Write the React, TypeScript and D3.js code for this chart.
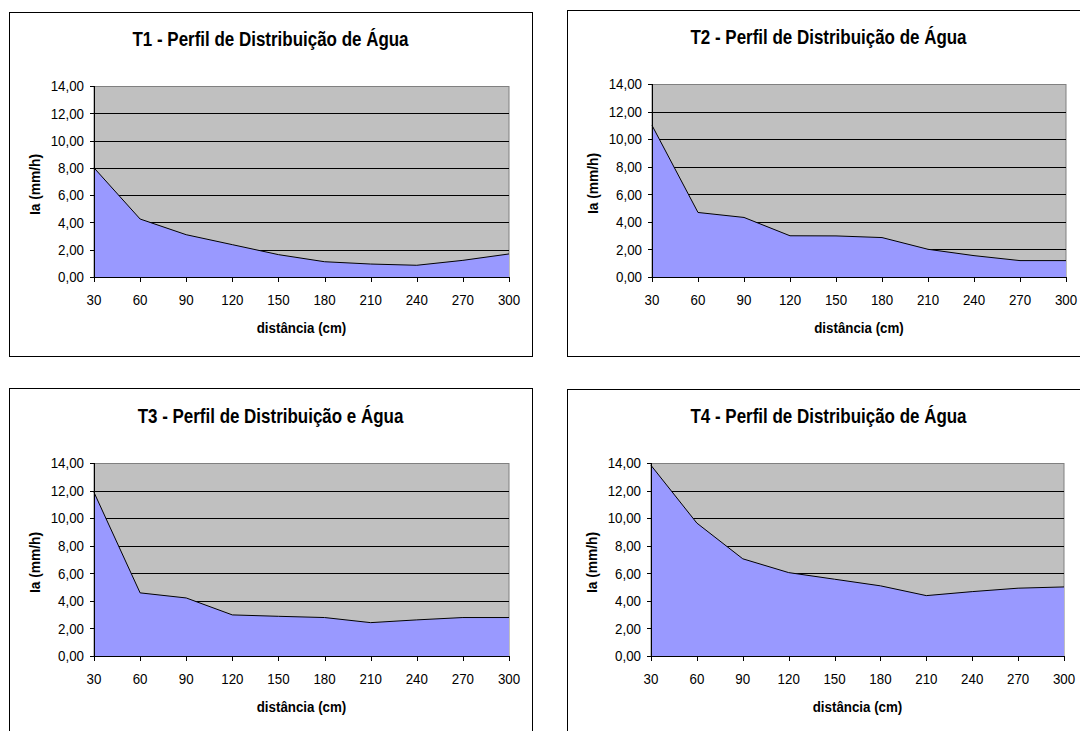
import React from "react";
import * as d3 from "d3";

// Distances along the lateral (cm)
const distances = [30, 60, 90, 120, 150, 180, 210, 240, 270, 300];

// Application intensity Ia (mm/h) for each treatment
const t1Values = [8.0, 4.25, 3.1, 2.37, 1.64, 1.12, 0.95, 0.86, 1.22, 1.69];
const t2Values = [11.0, 4.68, 4.32, 2.99, 2.98, 2.86, 2.01, 1.55, 1.19, 1.19];
const t3Values = [11.87, 4.58, 4.21, 2.98, 2.88, 2.79, 2.42, 2.62, 2.79, 2.79];
const t4Values = [13.83, 9.64, 7.05, 6.05, 5.57, 5.09, 4.38, 4.67, 4.92, 5.01];

const titles = [
  "T1 - Perfil de Distribuição de Água",
  "T2 - Perfil de Distribuição de Água",
  "T3 - Perfil de Distribuição e Água",
  "T4 - Perfil de Distribuição de Água",
];

const yTicks = [0, 2, 4, 6, 8, 10, 12, 14];
const xAxisTitle = "distância (cm)";
const yAxisTitle = "Ia (mm/h)";

const series = [t1Values, t2Values, t3Values, t4Values];

// Panel layout: outer frame and plot area for each chart
const panels = [
  { frame: { x0: 9, y0: 12, x1: 532, y1: 356 }, plot: { x0: 94, x1: 509, y0: 86, y1: 277 } },
  { frame: { x0: 567, y0: 10, x1: 1090, y1: 356 }, plot: { x0: 652, x1: 1066, y0: 84, y1: 277 } },
  { frame: { x0: 9, y0: 388, x1: 532, y1: 745 }, plot: { x0: 94, x1: 509, y0: 463, y1: 656 } },
  { frame: { x0: 567, y0: 389, x1: 1090, y1: 745 }, plot: { x0: 651, x1: 1064, y0: 463, y1: 656 } },
];

const FONT = "'Liberation Sans', Arial, Helvetica, sans-serif";
const fmt = (v: number) => v.toFixed(2).replace(".", ",");

function Panel({ idx }: { idx: number }) {
  const { frame, plot } = panels[idx];
  const values = series[idx];
  const x = d3.scalePoint<number>().domain(distances).range([plot.x0, plot.x1]).padding(0);
  const y = d3.scaleLinear().domain([0, 14]).range([plot.y1, plot.y0]);

  const pts = distances.map((d, i) => ({ d, v: values[i] }));
  const area = d3
    .area<{ d: number; v: number }>()
    .x((p) => x(p.d) as number)
    .y0(y(0))
    .y1((p) => y(p.v));
  const line = d3
    .line<{ d: number; v: number }>()
    .x((p) => x(p.d) as number)
    .y((p) => y(p.v));

  const cx = (plot.x0 + plot.x1) / 2;
  const cy = (plot.y0 + plot.y1) / 2;
  const titleX = (frame.x0 + frame.x1) / 2;

  return (
    <g>
      <rect
        x={frame.x0 + 0.5}
        y={frame.y0 + 0.5}
        width={frame.x1 - frame.x0}
        height={frame.y1 - frame.y0}
        fill="#ffffff"
        stroke="#000000"
        strokeWidth={1}
      />
      <text
        transform={`translate(${titleX},${plot.y0 - 40}) scale(0.87,1)`}
        textAnchor="middle"
        fontFamily={FONT}
        fontWeight="bold"
        fontSize={19.5}
        fill="#000"
      >
        {titles[idx]}
      </text>

      {/* plot area */}
      <rect
        x={plot.x0}
        y={plot.y0 + 0.5}
        width={plot.x1 - plot.x0}
        height={plot.y1 - plot.y0}
        fill="#C0C0C0"
        stroke="#808080"
        strokeWidth={1}
      />
      {/* gridlines */}
      {yTicks.slice(1, -1).map((t) => (
        <line
          key={t}
          x1={plot.x0}
          x2={plot.x1}
          y1={Math.round(y(t)) + 0.5}
          y2={Math.round(y(t)) + 0.5}
          stroke="#000"
          strokeWidth={1}
        />
      ))}
      <path d={area(pts) || ""} fill="#9999FF" />
      <path d={line(pts) || ""} fill="none" stroke="#000" strokeWidth={1} />

      {/* y axis */}
      <line x1={plot.x0 + 0.5} x2={plot.x0 + 0.5} y1={plot.y0} y2={plot.y1 + 1} stroke="#000" />
      {yTicks.map((t) => (
        <g key={t}>
          <line
            x1={plot.x0 - 4}
            x2={plot.x0 + 0.5}
            y1={Math.round(y(t)) + 0.5}
            y2={Math.round(y(t)) + 0.5}
            stroke="#000"
          />
          <text
            transform={`translate(${plot.x0 - 10},${y(t)}) scale(0.92,1)`}
            dy="0.36em"
            textAnchor="end"
            fontFamily={FONT}
            fontSize={14.5}
            fill="#000"
          >
            {fmt(t)}
          </text>
        </g>
      ))}

      {/* x axis */}
      <line x1={plot.x0} x2={plot.x1 + 1} y1={plot.y1 + 0.5} y2={plot.y1 + 0.5} stroke="#000" />
      {distances.map((d) => (
        <g key={d}>
          <line
            x1={Math.round(x(d) as number) + 0.5}
            x2={Math.round(x(d) as number) + 0.5}
            y1={plot.y1}
            y2={plot.y1 + 5}
            stroke="#000"
          />
          <text
            transform={`translate(${x(d) as number},${plot.y1 + 23}) scale(0.92,1)`}
            dy="0.36em"
            textAnchor="middle"
            fontFamily={FONT}
            fontSize={14.5}
            fill="#000"
          >
            {d}
          </text>
        </g>
      ))}

      <text
        transform={`translate(${cx},${plot.y1 + 56}) scale(0.92,1)`}
        textAnchor="middle"
        fontFamily={FONT}
        fontWeight="bold"
        fontSize={14.5}
        fill="#000"
      >
        {xAxisTitle}
      </text>
      <text
        transform={`translate(${plot.x0 - 54},${cy + 3}) rotate(-90) scale(0.95,0.95)`}
        textAnchor="middle"
        fontFamily={FONT}
        fontWeight="bold"
        fontSize={14.5}
        fill="#000"
      >
        {yAxisTitle}
      </text>
    </g>
  );
}

export default function App() {
  return (
    <svg
      width={1080}
      height={731}
      viewBox="0 0 1080 731"
      style={{ position: "absolute", left: 0, top: 0, background: "#ffffff" }}
    >
      <rect x={0} y={0} width={1080} height={731} fill="#ffffff" />
      {panels.map((_, i) => (
        <Panel key={i} idx={i} />
      ))}
    </svg>
  );
}
